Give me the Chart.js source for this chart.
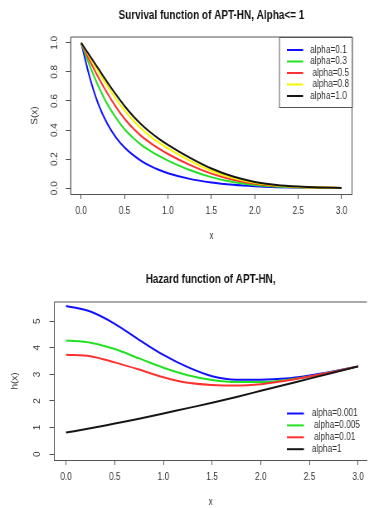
<!DOCTYPE html>
<html lang="en">
<head>
<meta charset="UTF-8">
<title>Survival and hazard function of APT-HN</title>
<script src="https://cdn.jsdelivr.net/npm/chart.js@4.4.0/dist/chart.umd.min.js"></script>
<style>
    body { margin: 0; background: #fff; }
    /* the source plot is squeezed horizontally: draw wider, show at 369px */
    canvas { display: block; width: 369px; height: 254px; }
</style>
</head>
<body>
<canvas id="survivalChart" width="445" height="254" style="width:369px;height:254px"></canvas>
<canvas id="hazardChart" width="445" height="254" style="width:369px;height:254px"></canvas>
<script>
// Survival function
const survX    = [0, 0.1, 0.2, 0.3, 0.4, 0.5, 0.6, 0.7, 0.8, 0.9, 1.0, 1.25, 1.5, 1.75, 2.0, 2.25, 2.5, 2.75, 3.0];
const survA01  = [1, 0.76, 0.575, 0.445, 0.35, 0.28, 0.227, 0.185, 0.152, 0.125, 0.103, 0.064, 0.039, 0.023, 0.013, 0.007, 0.004, 0.002, 0.001];
const survA03  = [1, 0.84, 0.70, 0.58, 0.485, 0.405, 0.345, 0.295, 0.255, 0.22, 0.19, 0.125, 0.076, 0.042, 0.022, 0.011, 0.006, 0.003, 0.001];
const survA05  = [1, 0.875, 0.76, 0.655, 0.56, 0.478, 0.41, 0.355, 0.31, 0.27, 0.235, 0.16, 0.10, 0.058, 0.031, 0.016, 0.008, 0.004, 0.002];
const survA08  = [1, 0.90, 0.80, 0.705, 0.615, 0.535, 0.465, 0.405, 0.355, 0.312, 0.274, 0.19, 0.12, 0.07, 0.037, 0.019, 0.009, 0.004, 0.002];
const survA10  = [1, 0.91, 0.82, 0.73, 0.645, 0.565, 0.495, 0.435, 0.383, 0.338, 0.298, 0.21, 0.135, 0.08, 0.043, 0.022, 0.011, 0.005, 0.002];
const survLabels = ['alpha=0.1', 'alpha=0.3', ' alpha=0.5', ' alpha=0.8', 'alpha=1.0'];
const survTicksX = [0, 0.5, 1.0, 1.5, 2.0, 2.5, 3.0];
const survTicksY = [0, 0.2, 0.4, 0.6, 0.8, 1.0];

// Hazard function
const hazX     = [0, 0.25, 0.5, 0.75, 1.0, 1.25, 1.5, 1.75, 2.0, 2.25, 2.5, 2.75, 3.0];
const hazA0001 = [5.57, 5.36, 4.90, 4.30, 3.73, 3.27, 2.93, 2.80, 2.80, 2.84, 2.96, 3.12, 3.30];
const hazA0005 = [4.27, 4.19, 3.95, 3.60, 3.25, 2.97, 2.79, 2.71, 2.71, 2.78, 2.92, 3.10, 3.30];
const hazA001  = [3.74, 3.68, 3.45, 3.18, 2.89, 2.68, 2.60, 2.58, 2.63, 2.76, 2.92, 3.10, 3.30];
const hazA1    = [0.81, 0.97, 1.15, 1.33, 1.53, 1.73, 1.93, 2.15, 2.38, 2.61, 2.84, 3.07, 3.30];
const hazLabels = ['alpha=0.001', ' alpha=0.005', ' alpha=0.01', 'alpha=1'];
const hazTicksX = [0, 0.5, 1.0, 1.5, 2.0, 2.5, 3.0];
const hazTicksY = [0, 1, 2, 3, 4, 5];

const FONT = '"Liberation Sans", Arial, sans-serif';
const AXIS = '#555';
const TEXT = '#333';
Chart.defaults.font.family = FONT;

function points(xs, ys) {
    return xs.map((x, i) => ({ x: x, y: ys[i] }));
}

// R-like frame, rotated y tick labels and legend
const rStyle = {
    id: 'rStyle',
    afterDraw(chart, args, opts) {
        const ctx = chart.ctx;
        const a = chart.chartArea;
        ctx.save();
        ctx.strokeStyle = AXIS;
        ctx.lineWidth = 1;
        ctx.beginPath();
        ctx.moveTo(a.left, a.bottom);
        ctx.lineTo(a.left, a.top);
        ctx.lineTo(a.right, a.top);
        if (opts.closed) ctx.lineTo(a.right, a.bottom);
        ctx.stroke();

        const ys = chart.scales.y;
        ctx.fillStyle = TEXT;
        ctx.font = '10px ' + FONT;
        ctx.textAlign = 'center';
        ctx.textBaseline = 'middle';
        ys.ticks.forEach(t => {
            ctx.save();
            ctx.translate(a.left - opts.labelGap, ys.getPixelForValue(t.value));
            ctx.rotate(-Math.PI / 2);
            ctx.fillText(t.value.toFixed(opts.decimals), 0, 0);
            ctx.restore();
        });

        const lg = opts.legend;
        if (lg.box) {
            ctx.fillStyle = '#fff';
            ctx.fillRect(lg.box[0], lg.box[1], lg.box[2], lg.box[3]);
            ctx.strokeStyle = AXIS;
            ctx.strokeRect(lg.box[0] + 0.5, lg.box[1] + 0.5, lg.box[2], lg.box[3]);
        }
        ctx.textAlign = 'left';
        chart.data.datasets.forEach((ds, i) => {
            const y = lg.y + i * lg.rowH;
            ctx.strokeStyle = ds.borderColor;
            ctx.lineWidth = 2;
            ctx.beginPath();
            ctx.moveTo(lg.x, y);
            ctx.lineTo(lg.x + lg.lineW, y);
            ctx.stroke();
            ctx.fillStyle = TEXT;
            ctx.fillText(ds.label, lg.x + lg.textDx, y);
        });
        ctx.restore();
    }
};

function axisOptions(min, max, ticks, decimals, size, tickLen, tickPad, titleText, titlePad, isX) {
    return {
        type: 'linear',
        min: min,
        max: max,
        afterBuildTicks: s => { s.ticks = ticks.map(v => ({ value: v })); },
        afterFit: s => { if (isX) s.height = size; else s.width = size; },
        grid: { drawOnChartArea: false, drawTicks: true, tickLength: tickLen, color: AXIS },
        border: { color: AXIS },
        ticks: {
            color: isX ? TEXT : 'rgba(0,0,0,0)',
            font: { size: 10 },
            padding: tickPad,
            maxRotation: 0,
            autoSkip: false,
            callback: v => v.toFixed(decimals)
        },
        title: { display: true, text: titleText, color: TEXT, font: { size: 10 }, padding: titlePad }
    };
}

// Survival chart
new Chart(document.getElementById('survivalChart'), {
    type: 'line',
    data: {
        datasets: [
            { label: survLabels[0], data: points(survX, survA01), borderColor: '#1010ff', order: 5 },
            { label: survLabels[1], data: points(survX, survA03), borderColor: '#22e022', order: 4 },
            { label: survLabels[2], data: points(survX, survA05), borderColor: '#ff3030', order: 3 },
            { label: survLabels[3], data: points(survX, survA08), borderColor: '#f5f500', order: 2 },
            { label: survLabels[4], data: points(survX, survA10), borderColor: '#151515', order: 1 }
        ]
    },
    options: {
        responsive: false,
        animation: false,
        layout: { padding: { top: 0, right: 20.5, bottom: 0, left: 0 } },
        elements: {
            point: { radius: 0 },
            line: { borderWidth: 2, cubicInterpolationMode: 'monotone' }
        },
        plugins: {
            legend: { display: false },
            tooltip: { enabled: false },
            title: {
                display: true,
                text: 'Survival function of APT-HN, Alpha<= 1',
                fullSize: false,
                color: '#111',
                font: { size: 12, weight: 'bold' },
                padding: { top: 8, bottom: 14.6 }
            },
            rStyle: {
                closed: true,
                labelGap: 19,
                decimals: 1,
                legend: { box: [336.5, 37, 88, 70], x: 346, y: 50, rowH: 11.5, lineW: 19.5, textDx: 28 }
            }
        },
        scales: {
            x: axisOptions(-0.12, 3.12, survTicksX, 1, 60, 5, 6, 'x', { top: 0, bottom: 12 }, true),
            y: axisOptions(-0.04, 1.04, survTicksY, 1, 85.3, 6, 0, 'S(x)', { top: 36, bottom: 0 }, false)
        }
    },
    plugins: [rStyle]
});

// Hazard chart
new Chart(document.getElementById('hazardChart'), {
    type: 'line',
    data: {
        datasets: [
            { label: hazLabels[0], data: points(hazX, hazA0001), borderColor: '#1010ff', order: 4 },
            { label: hazLabels[1], data: points(hazX, hazA0005), borderColor: '#22e022', order: 3 },
            { label: hazLabels[2], data: points(hazX, hazA001), borderColor: '#ff3030', order: 2 },
            { label: hazLabels[3], data: points(hazX, hazA1), borderColor: '#151515', order: 1 }
        ]
    },
    options: {
        responsive: false,
        animation: false,
        layout: { padding: { top: 0, right: 0, bottom: 0, left: 0 } },
        elements: {
            point: { radius: 0 },
            line: { borderWidth: 2, cubicInterpolationMode: 'monotone' }
        },
        plugins: {
            legend: { display: false },
            tooltip: { enabled: false },
            title: {
                display: true,
                text: 'Hazard function of APT-HN,',
                fullSize: false,
                color: '#111',
                font: { size: 12, weight: 'bold' },
                padding: { top: 18, bottom: 15.6 }
            },
            rStyle: {
                closed: false,
                labelGap: 20,
                decimals: 0,
                legend: { box: null, x: 346, y: 159.5, rowH: 11.9, lineW: 20.5, textDx: 30 }
            }
        },
        scales: {
            x: axisOptions(-0.12, 3.09, hazTicksX, 1, 48, 5, 6, 'x', { top: 0, bottom: 0 }, true),
            y: axisOptions(-0.22, 5.72, hazTicksY, 0, 65.5, 6, 0, 'h(x)', { top: 12, bottom: 0 }, false)
        }
    },
    plugins: [rStyle]
});
</script>
</body>
</html>
